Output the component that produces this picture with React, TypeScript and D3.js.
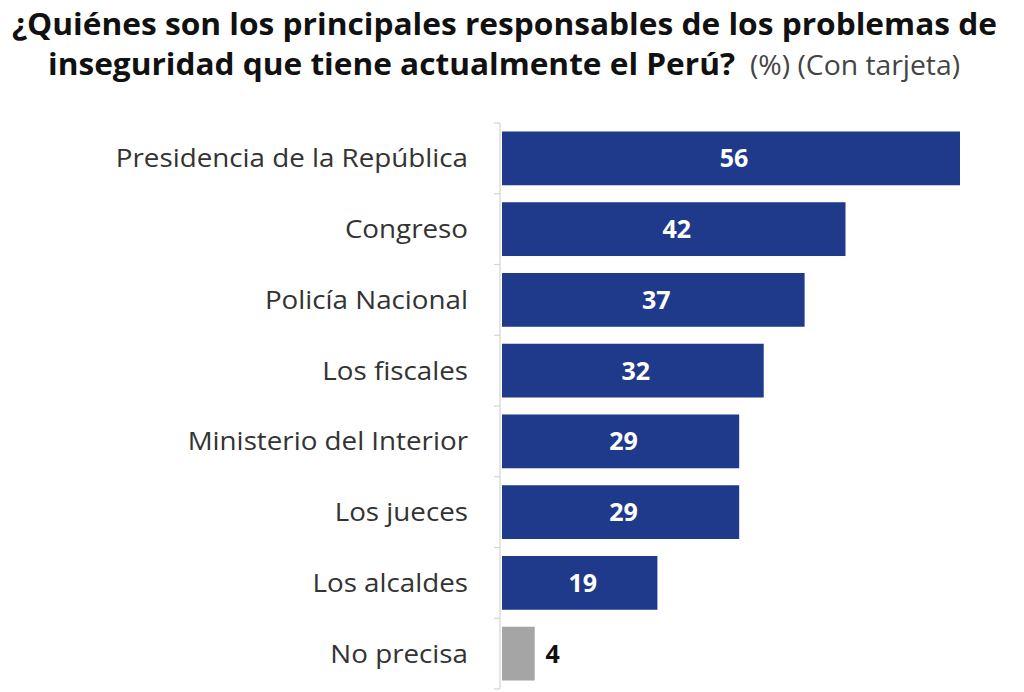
import React, { useEffect, useRef } from 'react';
import * as d3 from 'd3';

const categories = [
  'Presidencia de la República',
  'Congreso',
  'Policía Nacional',
  'Los fiscales',
  'Ministerio del Interior',
  'Los jueces',
  'Los alcaldes',
  'No precisa',
];
const values = [56, 42, 37, 32, 29, 29, 19, 4];
const highlight = [true, true, true, true, true, true, true, false];

const titleLine1 = '¿Quiénes son los principales responsables de los problemas de';
const titleLine2 = 'inseguridad que tiene actualmente el Perú?';
const titleNote = '(%) (Con tarjeta)';

const W = 1024;
const H = 692;

const App: React.FC = () => {
  const ref = useRef<SVGSVGElement>(null);

  useEffect(() => {
    if (!ref.current) return;
    const svg = d3.select(ref.current);
    svg.selectAll('*').remove();

    // title
    const title = svg.append('g').attr('font-family', '"Open Sans", sans-serif').attr('fill', '#111');
    title.append('text')
      .attr('x', 12).attr('y', 35)
      .attr('font-size', 31).attr('font-weight', 700)
      .attr('textLength', 985).attr('lengthAdjust', 'spacingAndGlyphs')
      .text(titleLine1);
    title.append('text')
      .attr('x', 48).attr('y', 75)
      .attr('font-size', 31).attr('font-weight', 700)
      .attr('textLength', 687).attr('lengthAdjust', 'spacingAndGlyphs')
      .text(titleLine2);
    title.append('text')
      .attr('x', 750).attr('y', 75)
      .attr('font-size', 27).attr('font-weight', 400).attr('fill', '#444')
      .attr('textLength', 210).attr('lengthAdjust', 'spacingAndGlyphs')
      .text(titleNote);

    const x0 = 502;
    const x = d3.scaleLinear().domain([0, 56]).range([x0, 960]);
    const y = d3.scaleBand<string>()
      .domain(categories)
      .range([123, 689])
      .paddingInner(0.24)
      .paddingOuter(0.12);

    // axis line with small ticks between bands
    const step = y.step();
    const axis = svg.append('g').attr('stroke', '#d4d4d4').attr('stroke-width', 1.2);
    axis.append('line').attr('x1', 500).attr('x2', 500).attr('y1', 123).attr('y2', 689);
    d3.range(categories.length + 1).forEach(i => {
      const yy = 123 + i * step;
      axis.append('line').attr('x1', 494).attr('x2', 500).attr('y1', yy).attr('y2', yy);
    });

    const g = svg.append('g').attr('font-family', '"Open Sans", sans-serif');

    g.selectAll('rect.bar')
      .data(values)
      .join('rect')
      .attr('class', 'bar')
      .attr('x', x0)
      .attr('y', (d, i) => y(categories[i]) as number)
      .attr('width', d => x(d) - x0)
      .attr('height', y.bandwidth())
      .attr('fill', (d, i) => (highlight[i] ? '#1f3a8b' : '#a5a5a5'));

    // category labels: the original face is wider than Open Sans, so stretch a bit
    g.selectAll<SVGTextElement, string>('text.cat')
      .data(categories)
      .join('text')
      .attr('class', 'cat')
      .attr('x', 468)
      .attr('y', d => (y(d) as number) + y.bandwidth() / 2)
      .attr('dy', '0.36em')
      .attr('text-anchor', 'end')
      .attr('font-size', 25)
      .attr('fill', '#333')
      .text(d => d)
      .each(function () {
        const len = this.getComputedTextLength();
        d3.select(this).attr('textLength', len * 1.11).attr('lengthAdjust', 'spacingAndGlyphs');
      });

    g.selectAll('text.val')
      .data(values)
      .join('text')
      .attr('class', 'val')
      .attr('x', (d, i) => (highlight[i] ? (x0 + x(d)) / 2 + 3 : x(d) + 18))
      .attr('y', (d, i) => (y(categories[i]) as number) + y.bandwidth() / 2)
      .attr('dy', '0.36em')
      .attr('text-anchor', 'middle')
      .attr('font-size', 25)
      .attr('font-weight', 700)
      .attr('fill', (d, i) => (highlight[i] ? '#fff' : '#111'))
      .text(d => d);
  }, []);

  return (
    <svg
      ref={ref}
      width={W}
      height={H}
      style={{ position: 'absolute', left: 0, top: 0, background: '#fff' }}
    />
  );
};

export default App;
